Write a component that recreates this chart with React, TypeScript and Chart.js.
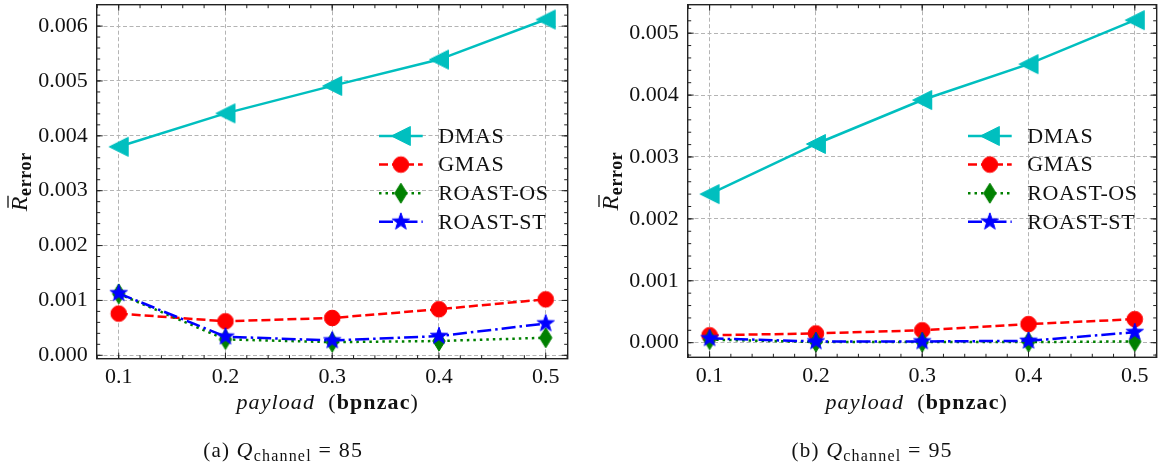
import React, { useEffect, useRef } from 'react';
import { Chart, registerables } from 'chart.js';

Chart.register(...registerables);

// ---------- data ----------
const payload = [0.1, 0.2, 0.3, 0.4, 0.5];
const seriesNames = ['DMAS', 'GMAS', 'ROAST-OS', 'ROAST-ST'];

// (a) Q_channel = 85
const dmas85 = [0.0038, 0.00441, 0.00491, 0.00539, 0.00612];
const gmas85 = [0.00076, 0.00062, 0.00068, 0.00084, 0.00102];
const roastOS85 = [0.00112, 0.00029, 0.00024, 0.00026, 0.00032];
const roastST85 = [0.00113, 0.00034, 0.00027, 0.00035, 0.00058];

// (b) Q_channel = 95
const dmas95 = [0.0024, 0.00321, 0.00392, 0.0045, 0.00521];
const gmas95 = [0.00012, 0.00015, 0.0002, 0.0003, 0.00038];
const roastOS95 = [0.00005, 0.00001, 0.00001, 0.00001, 0.00002];
const roastST95 = [0.00007, 0.00002, 0.00002, 0.00003, 0.00017];

const xTicks = [0.1, 0.2, 0.3, 0.4, 0.5];
const yTicks85 = [0, 0.001, 0.002, 0.003, 0.004, 0.005, 0.006];
const yTicks95 = [0, 0.001, 0.002, 0.003, 0.004, 0.005];
const xMinorStep = 0.02;
const yMinorStep = 0.0002;

// ---------- styles ----------
const SERIF = "'Liberation Serif'";
const colors = ['#00bfbf', '#ff0000', '#008000', '#0000ff'];
const dashes: number[][] = [[], [9, 4], [2.5, 4], [14, 4, 2.5, 4]];
const markerKinds = ['triLeft', 'circle', 'thinDiamond', 'star'];

function makeMarker(kind: string, color: string): HTMLCanvasElement {
  const c = document.createElement('canvas');
  const W = 26, H = 26;
  c.width = W; c.height = H;
  const ctx = c.getContext('2d')!;
  ctx.fillStyle = color; ctx.strokeStyle = color; ctx.lineWidth = 1;
  ctx.translate(W / 2, H / 2);
  ctx.beginPath();
  if (kind === 'triLeft') {
    const s = 19;
    ctx.moveTo(-s / 2, 0); ctx.lineTo(s / 2, -s / 2); ctx.lineTo(s / 2, s / 2); ctx.closePath();
  } else if (kind === 'circle') {
    ctx.arc(0, 0, 7.8, 0, Math.PI * 2);
  } else if (kind === 'thinDiamond') {
    ctx.moveTo(0, -10); ctx.lineTo(6.2, 0); ctx.lineTo(0, 10); ctx.lineTo(-6.2, 0); ctx.closePath();
  } else {
    const R = 9, r = R * 0.4;
    for (let i = 0; i < 10; i++) {
      const a = -Math.PI / 2 + (i * Math.PI) / 5;
      const rr = i % 2 === 0 ? R : r;
      const px = Math.cos(a) * rr, py = Math.sin(a) * rr;
      if (i === 0) ctx.moveTo(px, py); else ctx.lineTo(px, py);
    }
    ctx.closePath();
  }
  ctx.fill(); ctx.stroke();
  return c;
}

type Run = { text: string; font: string; dy?: number };
function drawRuns(ctx: CanvasRenderingContext2D, runs: Run[], x: number, y: number, align: 'center' | 'left', spacing = 0) {
  (ctx as any).letterSpacing = `${spacing}px`;
  const widths = runs.map((r) => { ctx.font = r.font; return ctx.measureText(r.text).width; });
  const total = widths.reduce((a, b) => a + b, 0);
  let cx = align === 'center' ? x - total / 2 : x;
  ctx.textBaseline = 'alphabetic';
  ctx.textAlign = 'left';
  const starts: number[] = [];
  runs.forEach((r, i) => {
    ctx.font = r.font;
    starts.push(cx);
    ctx.fillText(r.text, cx, y + (r.dy || 0));
    cx += widths[i];
  });
  (ctx as any).letterSpacing = '0px';
  return starts;
}

type Panel = {
  series: number[][];
  yMin: number; yMax: number; yTicks: number[];
  yAxisWidth: number; padRight: number; padBottom: number;
  width: number; left: number; letter: string; q: string;
};

const panels: Panel[] = [
  { series: [dmas85, gmas85, roastOS85, roastST85], yMin: -0.000062, yMax: 0.00639, yTicks: yTicks85,
    yAxisWidth: 96.7, padRight: 12.3, padBottom: 71.3, width: 580, left: 0, letter: 'a', q: '85' },
  { series: [dmas95, gmas95, roastOS95, roastST95], yMin: -0.000236, yMax: 0.00546, yTicks: yTicks95,
    yAxisWidth: 107.7, padRight: 2.3, padBottom: 72.7, width: 579, left: 580, letter: 'b', q: '95' },
];

function zeroPad(s: any) {
  s.paddingTop = 0; s.paddingBottom = 0; s.paddingLeft = 0; s.paddingRight = 0;
}

function buildChart(canvas: HTMLCanvasElement, p: Panel) {
  const markers = markerKinds.map((k, i) => makeMarker(k, colors[i]));
  const datasets = p.series.map((vals, i) => ({
    label: seriesNames[i],
    data: payload.map((x, j) => ({ x, y: vals[j] })),
    borderColor: colors[i],
    backgroundColor: colors[i],
    borderWidth: 2.5,
    borderDash: dashes[i],
    pointStyle: markers[i],
    pointRadius: 8,
    pointHoverRadius: 8,
    fill: false,
    tension: 0,
    order: 4 - i,
    clip: false as any,
  }));

  const decor = {
    id: 'decor',
    afterDraw(chart: any) {
      const ctx: CanvasRenderingContext2D = chart.ctx;
      const a = chart.chartArea;
      const xs = chart.scales.x, ys = chart.scales.y;
      ctx.save();
      // ticks (inside, all four sides)
      ctx.strokeStyle = '#222';
      ctx.lineWidth = 1;
      ctx.setLineDash([]);
      const drawX = (v: number, len: number) => {
        const px = xs.getPixelForValue(v);
        if (px < a.left + 0.5 || px > a.right - 0.5) return;
        ctx.beginPath();
        ctx.moveTo(px, a.bottom); ctx.lineTo(px, a.bottom - len);
        ctx.moveTo(px, a.top); ctx.lineTo(px, a.top + len);
        ctx.stroke();
      };
      const drawY = (v: number, len: number) => {
        const py = ys.getPixelForValue(v);
        if (py < a.top + 0.5 || py > a.bottom - 0.5) return;
        ctx.beginPath();
        ctx.moveTo(a.left, py); ctx.lineTo(a.left + len, py);
        ctx.moveTo(a.right, py); ctx.lineTo(a.right - len, py);
        ctx.stroke();
      };
      for (let k = Math.ceil(xs.min / xMinorStep); k * xMinorStep <= xs.max; k++) drawX(k * xMinorStep, 3.5);
      xTicks.forEach((v) => drawX(v, 6));
      for (let k = Math.ceil(ys.min / yMinorStep); k * yMinorStep <= ys.max; k++) drawY(k * yMinorStep, 3.5);
      p.yTicks.forEach((v) => drawY(v, 6));
      // frame
      ctx.lineWidth = 1.4;
      ctx.strokeRect(a.left, a.top, a.right - a.left, a.bottom - a.top);

      // legend
      const textX = a.right - 129.4;
      const l0 = textX - 59.3, l1 = textX - 15.6;
      seriesNames.forEach((name, i) => {
        const y = 136 + i * 28.6;
        ctx.save();
        ctx.strokeStyle = colors[i];
        ctx.lineWidth = 2.5;
        ctx.setLineDash(dashes[i]);
        ctx.beginPath(); ctx.moveTo(l0, y); ctx.lineTo(l1, y); ctx.stroke();
        ctx.restore();
        const m = markers[i];
        ctx.drawImage(m, (l0 + l1) / 2 - m.width / 2, y - m.height / 2);
        ctx.fillStyle = '#111';
        ctx.font = `22px ${SERIF}`;
        (ctx as any).letterSpacing = '0.6px';
        ctx.textAlign = 'left';
        ctx.textBaseline = 'middle';
        ctx.fillText(name, textX, y + 1);
        (ctx as any).letterSpacing = '0px';
      });

      ctx.fillStyle = '#111';
      // x title
      drawRuns(ctx, [
        { text: 'payload', font: `italic 22px ${SERIF}` },
        { text: '  (', font: `22px ${SERIF}` },
        { text: 'bpnzac', font: `bold 22px ${SERIF}` },
        { text: ')', font: `22px ${SERIF}` },
      ], a.right - 240, 409, 'center', 1.1);

      // caption
      drawRuns(ctx, [
        { text: `(${p.letter}) `, font: `21px ${SERIF}` },
        { text: 'Q', font: `italic 22px ${SERIF}` },
        { text: 'channel', font: `16px ${SERIF}`, dy: 4 },
        { text: ` = ${p.q}`, font: `22px ${SERIF}` },
      ], a.right - 284.5, 457, 'center', 1.2);

      // y title (rotated)
      ctx.save();
      ctx.translate(a.left - 69.7, (a.top + a.bottom) / 2);
      ctx.rotate(-Math.PI / 2);
      const starts = drawRuns(ctx, [
        { text: 'R', font: `italic 24px ${SERIF}` },
        { text: 'error', font: `bold 18px ${SERIF}`, dy: 4 },
      ], 0, 0, 'center', 0.6);
      ctx.strokeStyle = '#111';
      ctx.lineWidth = 1.3;
      ctx.beginPath();
      ctx.moveTo(starts[0] + 3.5, -19); ctx.lineTo(starts[0] + 15.5, -19);
      ctx.stroke();
      ctx.restore();

      ctx.restore();
    },
  };

  return new Chart(canvas, {
    type: 'line',
    data: { datasets: datasets as any },
    plugins: [decor],
    options: {
      responsive: false,
      animation: false,
      devicePixelRatio: 1,
      layout: { padding: { left: 0, top: 4.7, right: p.padRight, bottom: p.padBottom }, autoPadding: false },
      plugins: { legend: { display: false }, tooltip: { enabled: false }, title: { display: false } },
      scales: {
        x: {
          type: 'linear',
          min: 0.0794,
          max: 0.5206,
          afterBuildTicks: (s: any) => { s.ticks = xTicks.map((v) => ({ value: v })); },
          afterFit: (s: any) => { s.height = 40; zeroPad(s); },
          grid: { color: '#b4b4b4', lineWidth: 1, drawTicks: false },
          border: { display: false, dash: [4, 2.5] },
          ticks: {
            padding: 5.5,
            color: '#111',
            font: { family: SERIF, size: 22 },
            maxRotation: 0,
            autoSkip: false,
            callback: (v: any) => Number(v).toFixed(1),
          },
        },
        y: {
          type: 'linear',
          min: p.yMin,
          max: p.yMax,
          afterBuildTicks: (s: any) => { s.ticks = p.yTicks.map((v) => ({ value: v })); },
          afterFit: (s: any) => { s.width = p.yAxisWidth; zeroPad(s); },
          grid: { color: '#b4b4b4', lineWidth: 1, drawTicks: false },
          border: { display: false, dash: [4, 2.5] },
          ticks: {
            padding: 9,
            color: '#111',
            font: { family: SERIF, size: 22 },
            autoSkip: false,
            callback: (v: any) => Number(v).toFixed(3),
          },
        },
      },
    } as any,
  });
}

export default function App() {
  const refA = useRef<HTMLCanvasElement>(null);
  const refB = useRef<HTMLCanvasElement>(null);
  useEffect(() => {
    const charts = [buildChart(refA.current!, panels[0]), buildChart(refB.current!, panels[1])];
    return () => charts.forEach((c) => c.destroy());
  }, []);
  return (
    <div style={{ position: 'absolute', left: 0, top: 0, width: 1159, height: 470, background: '#fff' }}>
      <canvas ref={refA} width={panels[0].width} height={470}
        style={{ position: 'absolute', left: panels[0].left, top: 0, width: panels[0].width, height: 470 }} />
      <canvas ref={refB} width={panels[1].width} height={470}
        style={{ position: 'absolute', left: panels[1].left, top: 0, width: panels[1].width, height: 470 }} />
    </div>
  );
}
